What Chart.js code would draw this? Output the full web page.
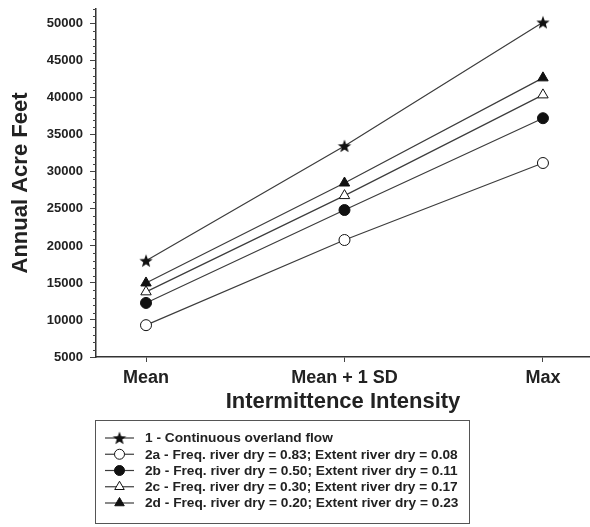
<!DOCTYPE html>
<html>
<head>
<meta charset="utf-8">
<script src="https://cdn.jsdelivr.net/npm/chart.js@4/dist/chart.umd.min.js"></script>
<style>
  html, body { margin: 0; padding: 0; background: #fff; }
  #wrap { width: 590px; height: 527px; }
</style>
</head>
<body>
<div id="wrap"><canvas id="c" width="590" height="527"></canvas></div>
<script>
// Annual acre feet by intermittence intensity scenario
const categories = ['Mean', 'Mean + 1 SD', 'Max'];
const continuousFlow = [18000, 33500, 50200];
const freq083 = [9300, 20800, 31200];
const freq050 = [12300, 24850, 37250];
const freq030 = [13800, 26800, 40400];
const freq020 = [15000, 28500, 42700];
const seriesLabels = [
  '1 - Continuous overland flow',
  '2a - Freq. river dry = 0.83; Extent river dry = 0.08',
  '2b - Freq. river dry = 0.50; Extent river dry = 0.11',
  '2c - Freq. river dry = 0.30; Extent river dry = 0.17',
  '2d - Freq. river dry = 0.20; Extent river dry = 0.23'
];
const yTicks = [5000, 10000, 15000, 20000, 25000, 30000, 35000, 40000, 45000, 50000];

const INK = '#222222';
const LINE = '#3c3c3c';
const FONT = '"Liberation Sans", Arial, sans-serif';

// filled five-point star used as a point marker
function makeStar(outer) {
  const inner = outer * 0.42;
  const size = Math.ceil(outer * 2 + 2);
  const cv = document.createElement('canvas');
  cv.width = size; cv.height = size;
  const g = cv.getContext('2d');
  g.translate(size / 2, size / 2 + outer * 0.08);
  g.beginPath();
  for (let i = 0; i < 10; i++) {
    const r = i % 2 === 0 ? outer : inner;
    const a = -Math.PI / 2 + i * Math.PI / 5;
    g.lineTo(Math.cos(a) * r, Math.sin(a) * r);
  }
  g.closePath();
  g.fillStyle = '#111';
  g.fill();
  return cv;
}
const starImg = makeStar(7);

function series(values) {
  return values.map((v, i) => ({ x: i, y: v }));
}

const markerSpecs = [
  { kind: 'star', fill: '#111' },
  { kind: 'circle', fill: '#ffffff' },
  { kind: 'circle', fill: '#111' },
  { kind: 'triangle', fill: '#ffffff' },
  { kind: 'triangle', fill: '#111' }
];
const seriesValues = [continuousFlow, freq083, freq050, freq030, freq020];

const datasets = seriesValues.map((vals, k) => {
  const m = markerSpecs[k];
  return {
    label: seriesLabels[k],
    data: series(vals),
    borderColor: LINE,
    borderWidth: 1.2,
    pointStyle: m.kind === 'star' ? starImg : m.kind,
    pointRadius: m.kind === 'triangle' ? 6 : 5.5,
    pointBackgroundColor: m.fill,
    pointBorderColor: '#111',
    pointBorderWidth: 1,
    tension: 0,
    fill: false
  };
});

// small minor ticks every 1000 on the value axis
const minorTicks = {
  id: 'minorTicks',
  afterDraw(chart) {
    const y = chart.scales.y;
    const ctx = chart.ctx;
    ctx.save();
    ctx.strokeStyle = '#444';
    ctx.lineWidth = 1;
    for (let v = 5000; v <= 52000; v += 1000) {
      if (v % 5000 === 0) continue;
      const py = Math.round(y.getPixelForValue(v)) + 0.5;
      ctx.beginPath();
      ctx.moveTo(y.right - 3, py);
      ctx.lineTo(y.right, py);
      ctx.stroke();
    }
    ctx.restore();
  }
};

// boxed legend with line-and-marker samples
const boxedLegend = {
  id: 'boxedLegend',
  afterDraw(chart) {
    const ctx = chart.ctx;
    const box = { x: 95.5, y: 420.5, w: 374, h: 103 };
    ctx.save();
    ctx.strokeStyle = '#555';
    ctx.lineWidth = 1;
    ctx.strokeRect(box.x, box.y, box.w, box.h);
    ctx.font = 'bold 13.7px ' + FONT;
    ctx.fillStyle = INK;
    ctx.textBaseline = 'middle';
    const rowY = [438, 454.25, 470.5, 486.75, 503];
    chart.data.datasets.forEach((ds, k) => {
      const yy = rowY[k];
      ctx.strokeStyle = LINE;
      ctx.lineWidth = 1.2;
      ctx.beginPath();
      ctx.moveTo(105, yy);
      ctx.lineTo(134, yy);
      ctx.stroke();
      const m = markerSpecs[k];
      const cx = 119.5;
      if (m.kind === 'star') {
        ctx.drawImage(starImg, cx - starImg.width / 2, yy - starImg.height / 2);
      } else if (m.kind === 'circle') {
        ctx.beginPath();
        ctx.arc(cx, yy, 5, 0, Math.PI * 2);
        ctx.fillStyle = m.fill;
        ctx.fill();
        ctx.strokeStyle = '#111';
        ctx.lineWidth = 1;
        ctx.stroke();
      } else {
        const r = 5.5;
        ctx.beginPath();
        ctx.moveTo(cx, yy - r);
        ctx.lineTo(cx + r * 0.866, yy + r / 2);
        ctx.lineTo(cx - r * 0.866, yy + r / 2);
        ctx.closePath();
        ctx.fillStyle = m.fill;
        ctx.fill();
        ctx.strokeStyle = '#111';
        ctx.lineWidth = 1;
        ctx.stroke();
      }
      ctx.fillStyle = INK;
      ctx.fillText(ds.label, 145, yy + 0.5);
    });
    ctx.restore();
  }
};

new Chart(document.getElementById('c'), {
  type: 'line',
  data: { datasets },
  options: {
    responsive: false,
    animation: false,
    devicePixelRatio: 1,
    layout: { autoPadding: false, padding: { top: 9, right: 0, bottom: 107, left: 0 } },
    plugins: { legend: { display: false }, tooltip: { enabled: false } },
    scales: {
      x: {
        type: 'linear',
        min: -0.252,
        max: 2.237,
        afterBuildTicks(scale) { scale.ticks = categories.map((_, i) => ({ value: i })); },
        afterFit(scale) {
          scale.height = 63;
          scale.paddingLeft = 0;
          scale.paddingRight = 0;
        },
        ticks: {
          callback: (v) => categories[v],
          font: { family: FONT, size: 18, weight: 'bold' },
          color: INK,
          padding: 5,
          maxRotation: 0,
          autoSkip: false
        },
        grid: { drawOnChartArea: false, drawTicks: true, tickLength: 5, color: '#444' },
        border: { color: '#333', width: 1.5 },
        title: {
          display: true,
          text: 'Intermittence Intensity',
          font: { family: FONT, size: 22, weight: 'bold' },
          color: INK,
          padding: { top: 0, bottom: 5 }
        }
      },
      y: {
        type: 'linear',
        min: 5000,
        max: 52000,
        afterBuildTicks(scale) { scale.ticks = yTicks.map(v => ({ value: v })); },
        afterFit(scale) {
          scale.width = 96;
          scale.paddingTop = 0;
          scale.paddingBottom = 0;
        },
        ticks: {
          callback: (v) => String(v),
          font: { family: FONT, size: 13, weight: 'bold' },
          color: INK,
          padding: 7
        },
        grid: { drawOnChartArea: false, drawTicks: true, tickLength: 6, color: '#444' },
        border: { color: '#333', width: 1.5 },
        title: {
          display: true,
          text: 'Annual Acre Feet',
          font: { family: FONT, size: 22, weight: 'bold' },
          color: INK,
          padding: { top: 8, bottom: 0 }
        }
      }
    }
  },
  plugins: [minorTicks, boxedLegend]
});
</script>
</body>
</html>
